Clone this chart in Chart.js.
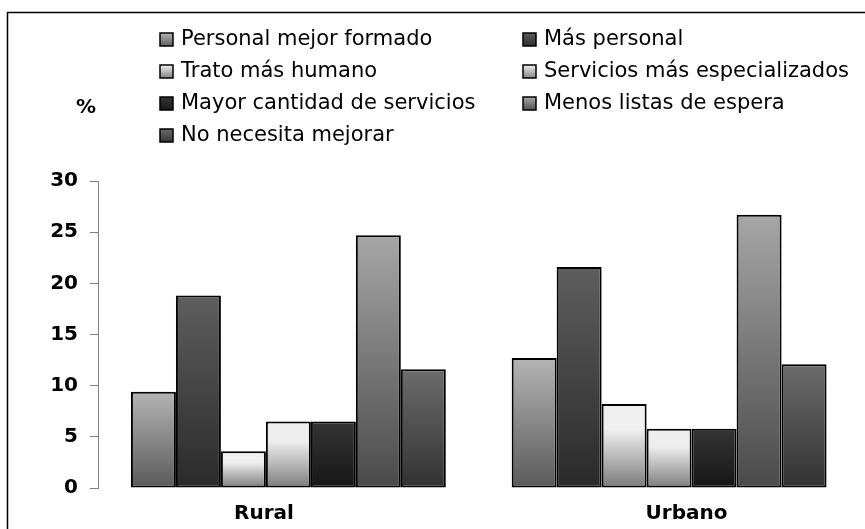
<!DOCTYPE html>
<html>
<head>
<meta charset="utf-8">
<script src="https://cdn.jsdelivr.net/npm/chart.js@4.4.1/dist/chart.umd.min.js"></script>
<style>
  html, body { margin: 0; padding: 0; background: #fff; }
  #wrap { width: 865px; height: 529px; position: relative; }
</style>
</head>
<body>
<div id="wrap"><canvas id="grafico"></canvas></div>
<script>
// Datos (porcentajes)
const categorias = ['Rural', 'Urbano'];
const series = [
  'Personal mejor formado',
  'Más personal',
  'Trato más humano',
  'Servicios más especializados',
  'Mayor cantidad de servicios',
  'Menos listas de espera',
  'No necesita mejorar'
];
const personalFormado = [9.4, 12.7];
const masPersonal = [18.8, 21.6];
const tratoHumano = [3.6, 8.2];
const serviciosEspecializados = [6.5, 5.8];
const mayorCantidad = [6.5, 5.8];
const menosListas = [24.7, 26.7];
const noNecesita = [11.6, 12.1];
const ticksY = [0, 5, 10, 15, 20, 25, 30];

// Degradados (arriba -> abajo) para cada serie
const degradados = [
  ['#b4b4b4', '#5a5a5a'],
  ['#5e5e5e', '#2a2a2a'],
  ['#f0f0f0', '#7a7a7a'],
  ['#eeeeee', '#7c7c7c'],
  ['#353535', '#161616'],
  ['#a6a6a6', '#4a4a4a'],
  ['#6c6c6c', '#323232']
];

const valores = [personalFormado, masPersonal, tratoHumano, serviciosEspecializados,
  mayorCantidad, menosListas, noNecesita];

const FUENTE = "'DejaVu Sans', Verdana, sans-serif";

// Crea un degradado vertical del tamaño de cada barra
function rellenoBarra(i) {
  return function (ctx) {
    const chart = ctx.chart;
    if (!chart.chartArea || ctx.type !== 'data') return degradados[i][1];
    const y = chart.scales.y;
    const top = y.getPixelForValue(ctx.raw);
    const base = y.getPixelForValue(0);
    const g = chart.ctx.createLinearGradient(0, top, 0, base);
    g.addColorStop(0, degradados[i][0]);
    if (i === 2 || i === 3) g.addColorStop(0.3, degradados[i][0]);
    g.addColorStop(1, degradados[i][1]);
    return g;
  };
}

// Leyenda en dos columnas, marco y el "%" del eje
const extras = {
  id: 'extras',
  afterDraw(chart) {
    const c = chart.ctx;
    c.save();
    // marco exterior (solo se ven los lados izquierdo y superior)
    c.strokeStyle = '#000';
    c.lineWidth = 1.5;
    c.beginPath();
    c.moveTo(7.5, chart.height + 5);
    c.lineTo(7.5, 12.5);
    c.lineTo(chart.width + 5, 12.5);
    c.stroke();

    c.font = 'bold 20px ' + FUENTE;
    c.fillStyle = '#000';
    c.textAlign = 'center';
    c.textBaseline = 'middle';
    c.fillText('%', 86, 108);

    c.font = '21px ' + FUENTE;
    c.textAlign = 'left';
    const columnas = [160, 523];
    chart.data.datasets.forEach((ds, i) => {
      const col = i % 2;
      const fila = Math.floor(i / 2);
      const x = columnas[col];
      const yc = 40 + fila * 32;
      const g = c.createLinearGradient(0, yc - 7, 0, yc + 7);
      g.addColorStop(0, degradados[i][0]);
      g.addColorStop(1, degradados[i][1]);
      c.fillStyle = g;
      c.fillRect(x, yc - 7, 13, 13);
      c.strokeStyle = '#000';
      c.lineWidth = 1.5;
      c.strokeRect(x, yc - 7, 13, 13);
      c.fillStyle = '#000';
      c.fillText(ds.label, x + 21, yc);
    });
    c.restore();
  }
};

const ctx = document.getElementById('grafico').getContext('2d');
new Chart(ctx, {
  type: 'bar',
  data: {
    labels: categorias,
    datasets: series.map((nombre, i) => ({
      label: nombre,
      data: valores[i],
      backgroundColor: rellenoBarra(i),
      borderColor: '#000',
      borderWidth: 2,
      borderSkipped: false,
      categoryPercentage: 0.827,
      barPercentage: 1.0
    }))
  },
  options: {
    responsive: true,
    maintainAspectRatio: false,
    animation: false,
    layout: { padding: { top: 181, right: 5.5, bottom: 0, left: 0 } },
    plugins: {
      legend: { display: false },
      tooltip: { enabled: false }
    },
    scales: {
      x: {
        afterFit(scale) { scale.height = 41; },
        grid: { display: false, drawTicks: false },
        border: { display: false },
        ticks: {
          color: '#000',
          padding: 14,
          // en el original las etiquetas no quedan centradas bajo cada grupo
          callback(v, i) {
            const txt = this.getLabelForValue(v);
            return i === 0 ? txt + '       ' : '     ' + txt;
          },
          font: { family: FUENTE, size: 20, weight: 'bold' }
        }
      },
      y: {
        min: ticksY[0],
        max: ticksY[ticksY.length - 1],
        afterFit(scale) { scale.width = 98; },
        afterBuildTicks(scale) { scale.ticks = ticksY.map(v => ({ value: v })); },
        grid: { drawOnChartArea: false, drawTicks: true, tickLength: 8, color: '#808080' },
        border: { display: true, color: '#808080', width: 1 },
        ticks: {
          color: '#000',
          padding: 12,
          font: { family: FUENTE, size: 20, weight: 'bold' }
        }
      }
    }
  },
  plugins: [extras]
});
</script>
</body>
</html>
